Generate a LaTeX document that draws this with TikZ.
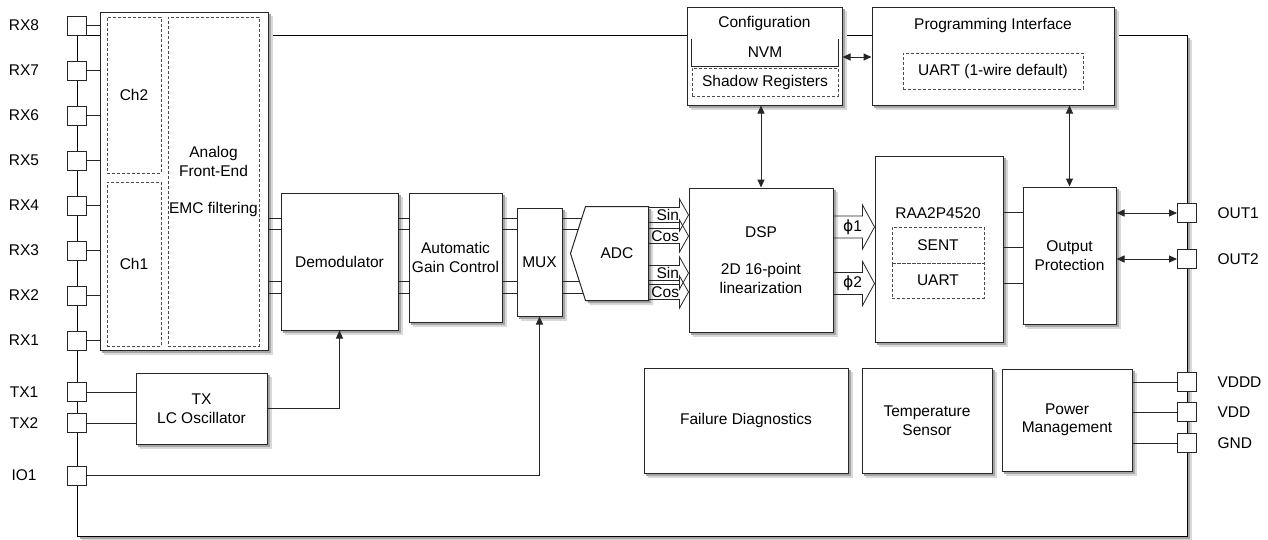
\documentclass[tikz,border=0pt]{standalone}
\usepackage{fontspec}
\setmainfont{Liberation Sans}
\newfontfamily\symf{DejaVu Sans}
\usetikzlibrary{arrows.meta,calc}
\pgfdeclarelayer{bg}
\pgfsetlayers{bg,main}

\newcommand{\fatarrow}[7]{%
  \draw[fat] ($(#1.east |- 0,#3)+(0,-#4)$) -- ($(#2.west |- 0,#3)+(-#6,-#4)$)
    -- ($(#2.west |- 0,#3)+(-#6,-#5)$) -- (#2.west |- 0,#3)
    -- ($(#2.west |- 0,#3)+(-#6,#5)$) -- ($(#2.west |- 0,#3)+(-#6,#4)$)
    -- ($(#1.east |- 0,#3)+(0,#4)$);
  \node[anchor=east, inner sep=0] at ($(#2.west |- 0,#3)+(-#6,0)$) {#7};
}

\begin{document}
\begin{tikzpicture}[x=1pt,y=-1pt,
  font=\fontsize{15.5}{18.5}\selectfont,
  line width=1pt, draw=black!85,
  block/.style={draw=black!85, fill=white, align=center, inner sep=1pt},
  dashbox/.style={draw=black!70, dash pattern=on 3pt off 2pt, line width=.8pt, align=center, inner sep=1pt},
  pad/.style={draw=black!85, fill=white, minimum size=19pt, inner sep=0},
  sig/.style={-{Triangle[length=8pt,width=7pt]}},
  bisig/.style={{Triangle[length=8pt,width=7pt]}-{Triangle[length=8pt,width=7pt]}},
  fat/.style={line width=.8pt},
  farshift/.style={xshift=4.5pt,yshift=-4.5pt},
  nearshift/.style={xshift=2.5pt,yshift=-2.5pt},
  sz/.style 2 args={minimum width=#1pt, minimum height=#2pt}]
\useasboundingbox (0,0) rectangle (1268,539);

\node[block, sz={168}{338}] (afe) at (184,181) {};
\node[dashbox, sz={54}{156}] (ch2) at (134,95) {Ch2};
\node[dashbox, sz={54}{164}] (ch1) at (134,264) {Ch1};
\node[dashbox, sz={91}{329}] (emc) at (213.5,181.5) {Analog\\Front-End\\~\\EMC filtering};

\foreach \n [count=\i from 0] in {8,7,...,1} {
  \node[pad] (rx\n) at (77,25.5+45*\i) {};
  \node at (24,25.5+45*\i) {RX\n};
  \draw (rx\n.east) -- (afe.west |- rx\n);
}
\node[pad] (tx1) at (77,392) {};
\node at (24,392) {TX1};
\node[pad] (tx2) at (77,423) {};
\node at (24,423) {TX2};
\node[pad] (io1) at (77,475.5) {};
\node at (24,475.5) {IO1};

\node[pad] (out1) at (1187,213) {};
\node[anchor=west, inner sep=0] at (1217,213) {OUT1};
\node[pad] (out2) at (1187,259) {};
\node[anchor=west, inner sep=0] at (1217,259) {OUT2};
\node[pad] (vddd) at (1187,382) {};
\node[anchor=west, inner sep=0] at (1217,382) {VDDD};
\node[pad] (vdd) at (1187,412) {};
\node[anchor=west, inner sep=0] at (1217,412) {VDD};
\node[pad] (gnd) at (1187,443) {};
\node[anchor=west, inner sep=0] at (1217,443) {GND};

\node[block, sz={131}{71}] (txosc) at (201.5,408.5) {TX\\LC Oscillator};
\node[block, sz={117}{137}] (demod) at (339.5,261.5) {Demodulator};
\node[block, sz={93}{129}] (agc) at (455.5,257.5) {Automatic\\Gain Control};
\node[block, sz={45}{108}] (mux) at (539.5,262) {MUX};
\node[inner sep=0, sz={62}{93}] (adc) at (617,253.5) {};

\foreach \y in {218,229,281,293} {
  \draw (afe.east |- 0,\y) -- (demod.west |- 0,\y);
  \draw (demod.east |- 0,\y) -- (agc.west |- 0,\y);
  \draw (agc.east |- 0,\y) -- (mux.west |- 0,\y);
  \draw (mux.east |- 0,\y) -- (adc.west |- 0,\y);
}
\draw[fill=white] (adc.north west) -- (adc.north east) -- (adc.south east)
  -- (adc.south west) -- ([xshift=-15pt]adc.west) -- cycle;
\node at (adc) {ADC};

\draw (tx1.east) -- (txosc.west |- tx1);
\draw (tx2.east) -- (txosc.west |- tx2);
\draw[sig] (txosc.east) -| (demod.south);
\draw[sig] (io1.east) -| (mux.south);

\node[block, sz={144}{144}] (dsp) at (761,260) {DSP\\~\\2D 16-point\\linearization};
\node[block, sz={128}{186}] (raa) at (939,249) {};
\node at (938,213) {RAA2P4520};
\node[dashbox, sz={92}{36}] (sent) at (938,245) {SENT};
\node[dashbox, sz={92}{35}] (uart) at (938,280.5) {UART};
\node[block, sz={93}{137}] (outp) at (1069.5,255.5) {Output\\Protection};

\node[block, sz={155}{98}] (cfg) at (764.5,56) {};
\node at (764.5,23) {Configuration};
\node[inner sep=0, sz={146}{27}] (nvm) at (765,52.5) {NVM};
\draw (nvm.north west) -- (nvm.south west) -- (nvm.south east) -- (nvm.north east);
\node[dashbox, sz={146}{28}] (shreg) at (765,82) {Shadow Registers};
\node[block, sz={242}{98}] (prog) at (993,56) {};
\node at (993,25) {Programming Interface};
\node[dashbox, sz={180}{36}] (uart1w) at (993,71) {UART (1-wire default)};

\node[block, sz={204}{105}] (fail) at (746,420.5) {Failure Diagnostics};
\node[block, sz={130}{105}] (temp) at (927,420.5) {Temperature\\Sensor};
\node[block, sz={130}{102}] (pwr) at (1067,420) {Power\\Management};

\fatarrow{adc}{dsp}{215}{7.5}{16}{9}{Sin}
\fatarrow{adc}{dsp}{236}{7.5}{16}{9}{Cos}
\fatarrow{adc}{dsp}{273}{7.5}{16}{9}{Sin}
\fatarrow{adc}{dsp}{292}{7.5}{16}{9}{Cos}
\fatarrow{dsp}{raa}{227}{11}{22}{12}{{\symf ϕ}1}
\fatarrow{dsp}{raa}{283.5}{11}{22}{12}{{\symf ϕ}2}

\foreach \y in {212,247,283}
  \draw (raa.east |- 0,\y) -- (outp.west |- 0,\y);
\draw[bisig] (cfg.east |- 0,57) -- (prog.west |- 0,57);
\draw[bisig] (dsp.north |- cfg.south) -- (dsp.north);
\draw[bisig] (outp.north |- prog.south) -- (outp.north);
\draw[bisig] (outp.east |- out1) -- (out1.west);
\draw[bisig] (outp.east |- out2) -- (out2.west);
\draw (pwr.east |- vddd) -- (vddd.west);
\draw (pwr.east |- vdd) -- (vdd.west);
\draw (pwr.east |- gnd) -- (gnd.west);

\begin{pgfonlayer}{bg}
\fill[black!15] (81.5,39.5) rectangle (1191.5,540.5);
\fill[black!35] (79.5,37.5) rectangle (1189.5,538.5);
\draw[fill=white] (77,35) rectangle (1187,536);
\foreach \b in {afe,txosc,demod,agc,mux,dsp,raa,outp,cfg,prog,fail,temp,pwr} {
  \fill[black!15] ([farshift]\b.south west) rectangle ([farshift]\b.north east);
  \fill[black!35] ([nearshift]\b.south west) rectangle ([nearshift]\b.north east);
}
\fill[black!15] ([farshift]adc.north west) -- ([farshift]adc.north east) -- ([farshift]adc.south east)
  -- ([farshift]adc.south west) -- ([farshift,xshift=-15pt]adc.west) -- cycle;
\fill[black!35] ([nearshift]adc.north west) -- ([nearshift]adc.north east) -- ([nearshift]adc.south east)
  -- ([nearshift]adc.south west) -- ([nearshift,xshift=-15pt]adc.west) -- cycle;
\end{pgfonlayer}
\end{tikzpicture}
\end{document}
